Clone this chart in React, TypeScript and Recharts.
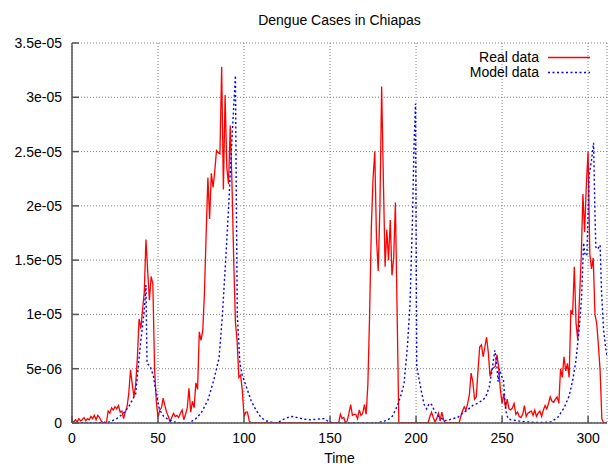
import { LineChart, Line, XAxis, YAxis, CartesianGrid, Legend } from "recharts";

const FONT = '"Liberation Sans", Arial, Helvetica, sans-serif';
const BORDER = "#555555";

// reported incidence, time step -> cases (x 1e-6)
const realWeeks = [
    0, 1, 2, 3, 4, 5, 6, 7, 8, 9, 10, 11, 12, 13, 14, 15, 16, 17, 18, 19, 20,
    21, 22, 23, 24, 25, 26, 27, 28, 29, 30, 31, 32, 33, 34, 35, 36, 37, 38, 39, 40,
    41, 42, 43, 44, 45, 46, 47, 48, 49, 50, 51, 52, 53, 54, 55, 56, 57, 58, 59, 60,
    61, 62, 63, 64, 65, 66, 67, 68, 69, 70, 71, 72, 73, 74, 75, 76, 77, 78, 79, 80,
    81, 82, 83, 84, 85, 86, 87, 88, 89, 90, 91, 92, 93, 94, 95, 96, 97, 98, 99, 100,
    101, 102, 103, 104, 155, 156, 157, 158, 159, 160, 161, 162, 163, 164, 165, 166, 167, 168, 169, 170,
    171, 172, 173, 174, 175, 176, 177, 178, 179, 180, 181, 182, 183, 184, 185, 186, 187, 188, 190, 207,
    208, 209, 210, 211, 212, 213, 214, 215, 216, 217, 225, 226, 227, 228, 229, 230, 231, 232, 233, 234,
    235, 236, 237, 238, 239, 240, 241, 242, 243, 244, 245, 246, 247, 248, 249, 250, 251, 252, 253, 254,
    255, 256, 257, 258, 259, 260, 261, 262, 263, 264, 265, 266, 267, 268, 269, 270, 271, 272, 273, 274,
    275, 276, 277, 278, 279, 280, 281, 282, 283, 284, 285, 286, 287, 288, 289, 290, 291, 292, 293, 294,
    295, 296, 297, 298, 299, 300, 301, 302, 303, 304, 305, 306, 307, 308, 309, 311,
];
const realCases = [
    0.2, 0.1, 0.3, 0.1, 0.4, 0.2, 0.3, 0.5, 0.2, 0.4, 0.3, 0.6, 0.4, 0.7, 0.3, 0.7, 0.5, 0.2, 0.0, 0.1, 0.0,
    1.1, 0.9, 1.4, 1.2, 1.5, 1.3, 1.6, 1.0, 1.1, 0.4, 1.0, 1.5, 2.7, 4.9, 3.6, 2.4, 3.5, 6.0, 9.6, 8.7,
    10.4, 12.0, 16.9, 14.0, 11.3, 13.5, 12.8, 5.0, 2.0, 0.5, 1.2, 1.4, 2.3, 1.6, 1.0, 0.6, 0.1, 0.5, 0.9, 0.6,
    0.7, 0.5, 0.9, 1.2, 0.3, 0.8, 1.4, 3.2, 1.0, 2.0, 1.4, 3.7, 3.1, 8.4, 7.6, 8.5, 12.0, 17.5, 22.6, 18.8,
    23.0, 21.7, 23.2, 25.1, 24.9, 24.8, 32.8, 21.5, 30.2, 23.5, 22.0, 27.4, 22.0, 15.0, 9.3, 7.5, 4.2, 4.4, 3.0, 0.6,
    1.0, 1.0, 0.2, 0.0, 0.0, 0.8, 0.4, 0.5, 0.0, 0.2, 0.9, 1.7, 0.7, 0.8, 0.8, 0.4, 1.2, 0.7, 0.9, 1.7,
    0.8, 3.6, 10.0, 18.0, 22.5, 25.0, 17.0, 14.0, 20.0, 31.0, 22.4, 14.4, 17.8, 15.0, 18.7, 13.6, 15.2, 20.3, 0.0, 0.0,
    0.6, 1.0, 0.5, 0.1, 0.4, 0.9, 0.2, 1.0, 0.3, 0.0, 0.0, 0.6, 1.1, 1.5, 1.2, 1.8, 2.6, 4.6, 3.8, 2.2,
    2.4, 4.8, 7.0, 7.2, 6.1, 7.0, 7.9, 6.5, 4.3, 4.9, 5.1, 5.2, 6.3, 5.2, 3.1, 1.8, 2.7, 1.4, 2.2, 1.3,
    1.2, 1.4, 1.8, 0.8, 1.0, 0.6, 0.5, 0.8, 1.6, 0.6, 0.9, 1.0, 1.1, 0.7, 1.2, 0.6, 0.9, 1.1, 0.6, 1.2,
    1.6, 1.3, 1.8, 2.4, 2.0, 1.9, 2.2, 2.4, 1.8, 5.0, 4.2, 6.1, 4.8, 5.5, 4.2, 10.4, 10.0, 14.4, 9.2, 7.7,
    11.5, 15.2, 21.1, 17.6, 22.0, 25.0, 15.6, 14.2, 15.2, 10.0, 9.2, 7.2, 4.8, 0.4, 0.0, 0.0,
];

// simulated incidence from the model (x 1e-6)
const modelWeeks = [
    0, 15, 20, 22, 26, 30, 33, 35, 37, 38, 39, 40, 41, 42, 43, 43.6, 45.5, 47.4, 48.4, 49.4,
    50.4, 51.4, 53.3, 56.2, 59.2, 62, 68, 72, 75, 79, 82.5, 85.5, 87.4, 89.3, 91.2, 93.2, 95, 95.5, 96.1, 97.6,
    99, 101, 104, 106.7, 109.7, 112.6, 115.5, 119.4, 122.3, 125.2, 128.1, 131, 134.9, 138.7, 142.6, 146.5, 149.4, 152.3, 177.5, 179.5,
    183.4, 186.3, 189.2, 191.5, 193, 195, 196.5, 197.9, 198.8, 199.7, 200.4, 201.8, 203.1, 204.7, 206.2, 207.6, 209, 210.5, 212.4, 214.4,
    216.3, 218.3, 221.2, 224.1, 227, 229.9, 232.8, 235.7, 238.6, 240.5, 242.5, 243.9, 245, 245.8, 246.9, 247.7, 248.5, 249.7, 250.8, 251.6,
    252.4, 253.5, 255.1, 259, 264.8, 268.6, 274, 278.4, 282.3, 286.1, 289, 291, 292.9, 294.8, 296.2, 297.4, 298.1, 299.3, 300.6, 302,
    303.2, 304, 304.5, 305.5, 307, 307.8, 309, 310.4, 311.7,
];
const modelCases = [
    0, 0, 0.05, 0.1, 0.4, 0.9, 1.5, 2.1, 2.7, 4.3, 6.0, 7.6, 8.9, 10.4, 12.7, 5.5, 5.2, 4.3, 3.2, 2.5,
    1.5, 1.1, 0.6, 0.3, 0.1, 0.02, 0, 0.4, 0.9, 2.1, 4.0, 6.0, 9.9, 14.9, 20.4, 26.8, 32.0, 21.0, 9.9, 5.5,
    4.4, 3.5, 2.1, 1.25, 0.55, 0.2, 0.1, 0, 0.3, 0.5, 0.6, 0.5, 0.35, 0.3, 0.35, 0.4, 0.1, 0, 0, 0.1,
    0.25, 0.65, 1.6, 2.7, 3.6, 7.1, 11.0, 18.7, 25.4, 29.4, 5.2, 4.0, 2.9, 1.7, 1.3, 1.8, 1.7, 1.2, 0.7, 0.5,
    0.2, 0.25, 0.4, 0.5, 0.9, 1.2, 1.6, 1.8, 2.1, 2.4, 3.3, 4.6, 5.8, 6.7, 5.4, 3.8, 5.0, 4.3, 4.0, 2.1,
    1.0, 0.4, 0.3, 0.2, 0.1, 0.05, 0.05, 0.1, 0.5, 1.4, 2.5, 3.9, 5.7, 8.6, 11.5, 16.6, 15.6, 15.4, 22.8, 24.2,
    25.8, 19.3, 16.2, 16.0, 16.4, 12.2, 8.6, 6.7, 5.7,
];

const xTicks = [0, 50, 100, 150, 200, 250, 300];
const yTicks = [0, 5e-6, 1e-5, 1.5e-5, 2e-5, 2.5e-5, 3e-5, 3.5e-5];

const realSeries = realWeeks.map((t, i) => ({ t, v: realCases[i] * 1e-6 }));
const modelSeries = modelWeeks.map((t, i) => ({ t, v: modelCases[i] * 1e-6 }));

const series = [
    { name: "Real data", data: realSeries, color: "#ff0000", dash: undefined as string | undefined, width: 1.3 },
    { name: "Model data", data: modelSeries, color: "#0000ff", dash: "2 2.5", width: 1.4 },
];

// gnuplot-like exponent labels: 3.5e-05
const fmtExp = (v: number) => {
    if (v === 0) return "0";
    const [m, e] = v.toExponential().split("e");
    const n = parseInt(e, 10);
    return `${m}e${n < 0 ? "-" : "+"}${String(Math.abs(n)).padStart(2, "0")}`;
};

const TICK_LEN = 7;

const BottomTick = (props: any) => {
    const { x, y, payload } = props;
    return (
        <g>
            <line x1={x} x2={x} y1={y} y2={y - TICK_LEN} stroke={BORDER} strokeWidth={1.5} />
            <text x={x} y={y + 20} textAnchor="middle" fontSize={14} fontFamily={FONT} fill="#000">
                {payload.value}
            </text>
        </g>
    );
};

const LeftTick = (props: any) => {
    const { x, y, payload } = props;
    return (
        <g>
            <line x1={x} x2={x + TICK_LEN} y1={y} y2={y} stroke={BORDER} strokeWidth={1.5} />
            <text x={x - 10} y={y + 5} textAnchor="end" fontSize={14} fontFamily={FONT} fill="#000">
                {fmtExp(payload.value)}
            </text>
        </g>
    );
};

const TopTick = (props: any) => {
    const { x, y } = props;
    return <line x1={x} x2={x} y1={y} y2={y + TICK_LEN} stroke={BORDER} strokeWidth={1.5} />;
};

const RightTick = (props: any) => {
    const { x, y } = props;
    return <line x1={x} x2={x - TICK_LEN} y1={y} y2={y} stroke={BORDER} strokeWidth={1.5} />;
};

const KeyBox = () => (
    <div style={{ fontFamily: FONT, fontSize: 14, lineHeight: "15px", color: "#000" }}>
        {series.map((s) => (
            <div key={s.name} style={{ display: "flex", justifyContent: "flex-end", alignItems: "center", height: 15 }}>
                <span style={{ whiteSpace: "nowrap" }}>{s.name}</span>
                <svg width={51} height={15} style={{ display: "block", flex: "none" }}>
                    <line x1={9} x2={51} y1={7.5} y2={7.5} stroke={s.color} strokeWidth={s.width} strokeDasharray={s.dash} />
                </svg>
            </div>
        ))}
    </div>
);

export default function App() {
    return (
        <div style={{ position: "absolute", left: 0, top: 0, width: 608, height: 464 }}>
            <div
                style={{
                    position: "absolute",
                    left: 72,
                    top: 13,
                    width: 535,
                    textAlign: "center",
                    fontFamily: FONT,
                    fontSize: 14,
                    lineHeight: "14px",
                    color: "#000",
                }}
            >
                Dengue Cases in Chiapas
            </div>
            <LineChart width={608} height={464} margin={{ top: 43, right: 1, bottom: 0, left: 8 }} style={{ fontFamily: FONT }}>
                <CartesianGrid stroke="#808080" strokeDasharray="1 2" strokeWidth={1} />
                <XAxis
                    dataKey="t"
                    type="number"
                    domain={[0, 311]}
                    ticks={xTicks}
                    interval={0}
                    allowDataOverflow
                    height={41}
                    tickSize={0}
                    tickMargin={0}
                    tickLine={false}
                    tick={BottomTick}
                    axisLine={{ stroke: BORDER, strokeWidth: 1.5 }}
                    label={{ value: "Time", position: "insideBottom", offset: 1, fill: "#000", fontSize: 14, fontFamily: FONT }}
                />
                <XAxis
                    xAxisId="top"
                    orientation="top"
                    dataKey="t"
                    type="number"
                    domain={[0, 311]}
                    ticks={xTicks}
                    interval={0}
                    height={0}
                    tickSize={0}
                    tickMargin={0}
                    tickLine={false}
                    tick={TopTick}
                    axisLine={{ stroke: BORDER, strokeWidth: 1.5 }}
                />
                <YAxis
                    type="number"
                    domain={[0, 3.5e-5]}
                    ticks={yTicks}
                    interval={0}
                    allowDataOverflow
                    width={64}
                    tickSize={0}
                    tickMargin={0}
                    tickLine={false}
                    tick={LeftTick}
                    axisLine={{ stroke: BORDER, strokeWidth: 1.5 }}
                />
                <YAxis
                    yAxisId="right"
                    orientation="right"
                    type="number"
                    domain={[0, 3.5e-5]}
                    ticks={yTicks}
                    interval={0}
                    width={0}
                    tickSize={0}
                    tickMargin={0}
                    tickLine={false}
                    tick={RightTick}
                    axisLine={{ stroke: BORDER, strokeWidth: 1.5 }}
                />
                <Legend
                    layout="vertical"
                    align="center"
                    verticalAlign="middle"
                    content={KeyBox}
                    wrapperStyle={{ left: 340, top: 50, width: 250, height: 30 }}
                />
                {series.map((s) => (
                    <Line
                        key={s.name}
                        name={s.name}
                        data={s.data}
                        dataKey="v"
                        type="linear"
                        stroke={s.color}
                        strokeWidth={s.width}
                        strokeDasharray={s.dash}
                        dot={false}
                        activeDot={false}
                        isAnimationActive={false}
                    />
                ))}
            </LineChart>
        </div>
    );
}
